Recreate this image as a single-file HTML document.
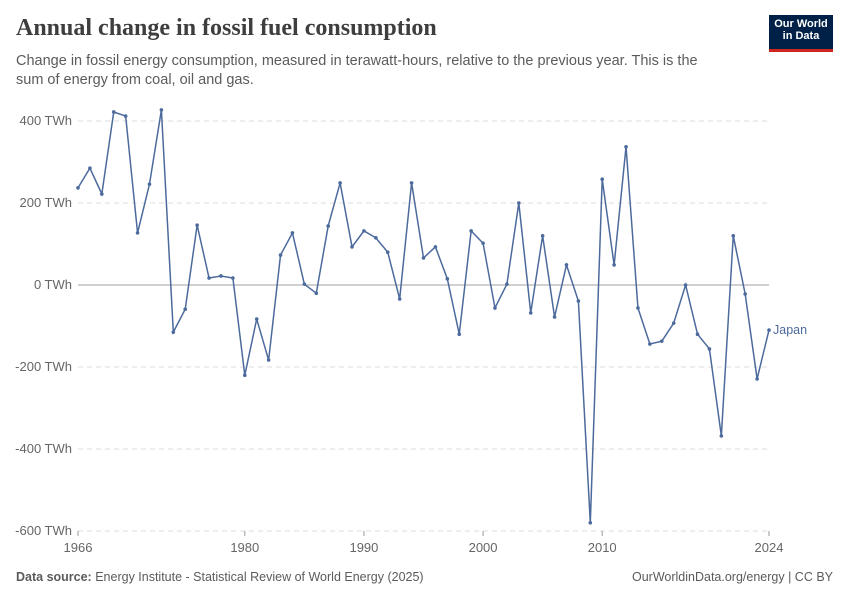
<!DOCTYPE html>
<html><head><meta charset="utf-8"><style>
body{margin:0;background:#fff;font-family:"Liberation Sans",sans-serif;}
#wrap{position:relative;width:850px;height:600px;overflow:hidden;}
h1{position:absolute;left:16px;top:15px;margin:0;font-family:"Liberation Serif",serif;font-weight:bold;font-size:24px;color:#3e3e3e;}
.sub{position:absolute;left:16px;top:52px;width:700px;font-size:14.5px;line-height:19px;color:#5b5b5b;margin:0;}
.logo{position:absolute;left:769px;top:15px;width:64px;height:37px;background:#002147;color:#fff;font-size:11px;font-weight:bold;line-height:12px;text-align:center;padding-top:3px;box-sizing:border-box;border-bottom:3px solid #ce261e;}
.foot{position:absolute;top:570px;font-size:12.5px;color:#5b5b5b;}
</style></head><body>
<div id="wrap">
<h1>Annual change in fossil fuel consumption</h1>
<p class="sub">Change in fossil energy consumption, measured in terawatt-hours, relative to the previous year. This is the sum of energy from coal, oil and gas.</p>
<div class="logo">Our World<br>in Data</div>
<svg id="chart" width="850" height="600" style="position:absolute;left:0;top:0"></svg>
<div class="foot" style="left:16px"><b>Data source:</b> Energy Institute - Statistical Review of World Energy (2025)</div>
<div class="foot" style="right:17px">OurWorldinData.org/energy | CC BY</div>
</div>
<script>
const years=[1966,1967,1968,1969,1970,1971,1972,1973,1974,1975,1976,1977,1978,1979,1980,1981,1982,1983,1984,1985,1986,1987,1988,1989,1990,1991,1992,1993,1994,1995,1996,1997,1998,1999,2000,2001,2002,2003,2004,2005,2006,2007,2008,2009,2010,2011,2012,2013,2014,2015,2016,2017,2018,2019,2020,2021,2022,2023,2024];
const japanValues=[237,285,222,422,412,127,246,427,-115,-59,146,17,22,17,-220,-83,-183,73,127,2,-20,144,249,93,132,115,80,-34,249,66,93,15,-120,132,102,-56,2,200,-68,120,-78,49,-39,-580,258,49,337,-56,-144,-137,-93,0,-120,-156,-368,120,-22,-229,-110];
const yTicks=[400,200,0,-200,-400,-600];
const yTickLabels=["400 TWh","200 TWh","0 TWh","-200 TWh","-400 TWh","-600 TWh"];
const xTicks=[1966,1980,1990,2000,2010,2024];
const NS="http://www.w3.org/2000/svg";
const svg=document.getElementById('chart');
const x=v=>78+(v-1966)*(769-78)/(2024-1966);
const y=v=>285-v*82/200;
function el(t,a){const e=document.createElementNS(NS,t);for(const k in a)e.setAttribute(k,a[k]);svg.appendChild(e);return e;}
yTicks.forEach((t,i)=>{
  const l=el('line',{x1:78,x2:769,y1:y(t),y2:y(t),stroke:t===0?'#a0a0a0':'#dddddd','stroke-dasharray':t===0?'':'5,4'});
  
  
  const tx=el('text',{x:72,y:y(t)+4,'text-anchor':'end','font-size':13,fill:'#666','font-family':'Liberation Sans, sans-serif'});
  tx.textContent=yTickLabels[i];
  
  
});
xTicks.forEach(t=>{
  const l=el('line',{x1:x(t),x2:x(t),y1:531,y2:536,stroke:'#999'});
  
  
  const tx=el('text',{x:x(t),y:552,'text-anchor':'middle','font-size':13,fill:'#666','font-family':'Liberation Sans, sans-serif'});
  tx.textContent=t;
  
  
});
const pts=years.map((yr,i)=>x(yr)+','+y(japanValues[i])).join(' ');
const line=el('polyline',{points:pts,fill:'none',stroke:'#4c6a9c','stroke-width':1.5});


years.forEach((yr,i)=>{
  const c=el('circle',{cx:x(yr),cy:y(japanValues[i]),r:1.8,fill:'#4c6a9c'});
  
  
});
const lab=el('text',{x:773,y:y(japanValues[japanValues.length-1])+4,'font-size':12.5,fill:'#4c6a9c','font-family':'Liberation Sans, sans-serif'});
lab.textContent='Japan';


</script>
</body></html>
